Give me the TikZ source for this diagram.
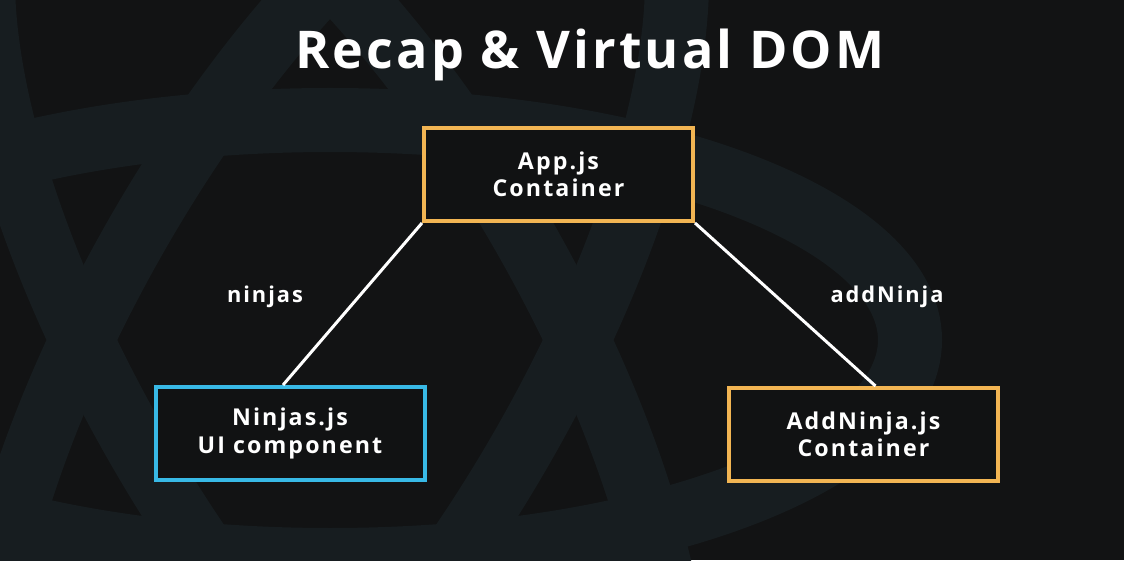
\documentclass[tikz,border=0pt]{standalone}
\usepackage{fontspec}
\setmainfont{Open Sans}
\usetikzlibrary{calc}

\definecolor{slidebg}{HTML}{121314}
\definecolor{orbitcol}{HTML}{171D20}
\definecolor{boxfill}{HTML}{111213}
\definecolor{containercol}{HTML}{F2B553}
\definecolor{componentcol}{HTML}{38B9E6}

\tikzset{
  compbox/.style={draw=#1,line width=0.1cm,fill=boxfill,text=white,
    minimum width=269*0.025cm,minimum height=93*0.025cm,align=center,
    font=\boxfontsize},
  proplabel/.style={text=white,font=\labelfontsize},
  propline/.style={draw=white,line width=0.075cm}
}

\begin{document}
\begin{tikzpicture}[x=0.025cm,y=-0.025cm]
    \providecommand{\titlefontsize}{\fontsize{37}{44}\selectfont\bfseries\addfontfeature{LetterSpace=6}}
    \providecommand{\boxfontsize}{\fontsize{16.5}{19.3}\selectfont\bfseries\addfontfeature{LetterSpace=9}}
    \providecommand{\labelfontsize}{\fontsize{15.5}{18}\selectfont\bfseries\addfontfeature{LetterSpace=9}}
    \pgfmathsetmacro{\orbitrx}{580}
    \pgfmathsetmacro{\orbitry}{220}
    % slide background with the faint logo behind
    \fill[slidebg] (0,0) rectangle (1124,560);
    \begin{scope}
        \clip (0,0) rectangle (1124,560);
        \foreach \ang in {0,60,120}
            \draw[orbitcol,line width=1.6cm,rotate around={\ang:(330,340)}] (330,340) ellipse ({\orbitrx} and {\orbitry});
    \end{scope}
    \useasboundingbox (0,0) rectangle (1124,560);
    \node[text=white,font=\titlefontsize](title) at (590,55){Recap \& Virtual DOM};
    \node[compbox=containercol](app) at (558.5,174.5){App.js\\Container};
    \node[compbox=componentcol](ninjas) at (290,433.5){Ninjas.js\\UI component};
    \node[compbox=containercol](addninja) at (863.5,434.5){AddNinja.js\\Container};
    \draw[propline] (app.south west) -- ($(ninjas.north)+(-7,0)$);
    \draw[propline] (app.south east) -- ($(addninja.north)+(12,0)$);
    \node[proplabel](ninjaslbl) at (265,297){ninjas};
    \node[proplabel](addlbl) at (887,297){addNinja};
\end{tikzpicture}
\end{document}
